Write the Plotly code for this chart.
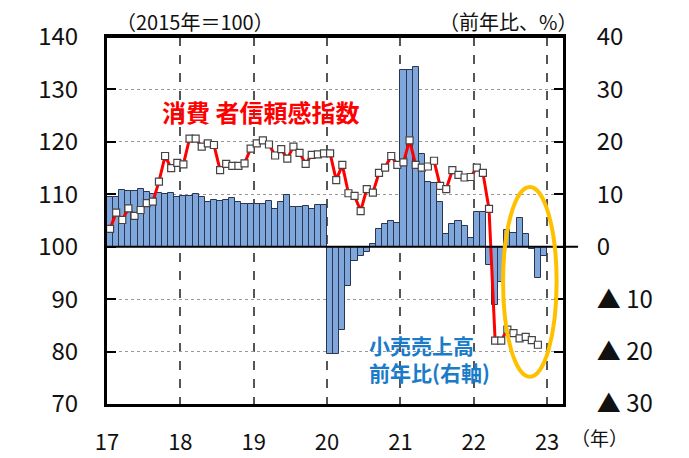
import plotly.graph_objects as go

# ---- data (monthly, Jan 2017 - Dec 2022) ----
start_year = 2017
year_ticks = [2017, 2018, 2019, 2020, 2021, 2022, 2023]
year_labels = ["17", "18", "19", "20", "21", "22", "23"]

left_ticks = [70, 80, 90, 100, 110, 120, 130, 140]
left_labels = ["70", "80", "90", "100", "110", "120", "130", "140"]
right_ticks = [-30, -20, -10, 0, 10, 20, 30, 40]
right_labels = ["▲ 30", "▲ 20", "▲ 10", "0", "10", "20", "30", "40"]

# Retail sales, y/y % (right axis)
retail_yoy = [
    9.5, 9.5, 10.9, 10.7, 10.7, 11.0, 10.4, 10.1, 10.3, 10.0, 10.2, 9.4,      # 2017
    9.7, 9.7, 10.1, 9.4, 8.5, 9.0, 8.8, 9.0, 9.2, 8.6, 8.1, 8.2,              # 2018
    8.2, 8.2, 8.7, 7.2, 8.6, 9.8, 7.6, 7.5, 7.8, 7.2, 8.0, 8.0,               # 2019
    -20.5, -20.5, -15.8, -7.5, -2.8, -1.8, -1.1, 0.5, 3.3, 4.3, 5.0, 4.6,     # 2020
    33.8, 33.8, 34.2, 17.7, 12.4, 12.1, 8.5, 2.5, 4.4, 4.9, 3.9, 1.7,         # 2021
    6.7, 6.7, -3.5, -11.1, -6.7, 3.1, 2.7, 5.4, 2.5, -0.5, -5.9, -1.8,        # 2022
]

# Consumer confidence index, 2015=100 (left axis)
confidence = [
    103.4, 106.5, 105.1, 107.3, 105.9, 107.0, 108.3, 108.6, 112.4, 117.3, 115.0, 116.0,  # 2017
    115.7, 120.6, 120.6, 119.1, 119.7, 119.4, 114.6, 115.8, 115.4, 115.4, 115.9, 118.7,  # 2018
    119.7, 120.3, 119.5, 117.4, 118.6, 116.8, 119.1, 117.9, 115.8, 117.5, 117.6, 117.8,  # 2019
    117.8, 112.7, 115.6, 110.2, 109.7, 106.8, 111.0, 110.3, 114.1, 115.1, 117.3, 115.6,  # 2020
    116.1, 120.3, 115.6, 115.1, 115.3, 116.4, 111.6, 111.0, 114.6, 113.7, 113.2, 113.3,  # 2021
    115.1, 114.1, 107.2, 82.1, 82.1, 84.2, 83.5, 82.5, 82.8, 82.2, 81.3,                 # 2022 (to Nov)
]

x_bar = [start_year + (i + 0.5) / 12 for i in range(len(retail_yoy))]
x_line = [start_year + (i + 0.5) / 12 for i in range(len(confidence))]

FONT = "Noto Sans CJK JP"

fig = go.Figure()
fig.add_trace(go.Bar(
    x=x_bar, y=retail_yoy, width=1 / 12,
    marker=dict(color="#7FA7DC", line=dict(color="#2A3550", width=1)),
    yaxis="y", showlegend=False,
))
fig.add_trace(go.Scatter(
    x=x_line, y=confidence, mode="lines+markers",
    line=dict(color="#FF0000", width=3),
    marker=dict(symbol="square", size=7, color="white",
                line=dict(color="#444444", width=1.2)),
    yaxis="y2", showlegend=False,
))

# page body has an 8px margin, so the figure is offset by (8, 8)
fig.update_layout(
    width=681, height=450,
    margin=dict(l=99, r=126, t=29, b=54, autoexpand=False),
    paper_bgcolor="white", plot_bgcolor="white",
    font=dict(family=FONT, color="#111111", size=20),
    bargap=0,
    xaxis=dict(
        range=[2017, 2023.217], tickvals=year_ticks, ticktext=year_labels,
        showgrid=True, gridcolor="#555555", griddash="dash", gridwidth=1.5,
        showline=True, linecolor="black", linewidth=3, mirror=True,
        ticks="", ticklabelstandoff=17, tickfont=dict(size=22),
        zeroline=False, automargin=False,
    ),
    yaxis=dict(
        side="right", range=[-30, 40], tickvals=right_ticks, ticktext=right_labels,
        showgrid=True, gridcolor="#999999", griddash="dot", gridwidth=1,
        showline=True, linecolor="black", linewidth=3,
        ticks="inside", ticklen=9, tickwidth=2, tickcolor="black",
        ticklabelstandoff=26, tickfont=dict(size=24),
        zeroline=False, automargin=False,
    ),
    yaxis2=dict(
        side="left", overlaying="y", range=[70, 140],
        tickvals=left_ticks, ticktext=left_labels,
        showgrid=False,
        showline=True, linecolor="black", linewidth=3,
        ticks="inside", ticklen=9, tickwidth=2, tickcolor="black",
        ticklabelstandoff=21, tickfont=dict(size=24),
        zeroline=False, automargin=False,
    ),
    shapes=[
        dict(type="line", xref="paper", yref="y", x0=0, x1=1.033, y0=0, y1=0,
             line=dict(color="black", width=2)),
        dict(type="line", xref="paper", yref="paper", x0=0, x1=1, y0=1, y1=1,
             line=dict(color="black", width=2)),
        dict(type="circle", xref="x", yref="y2", x0=2022.40, x1=2023.13,
             y0=75.2, y1=111.4, line=dict(color="#FFC000", width=4)),
    ],
    annotations=[
        dict(text="<b>消費 者信頼感指数</b>", xref="paper", yref="paper",
             x=0.336, y=0.796, xanchor="center", yanchor="middle", showarrow=False,
             font=dict(size=24, color="#FF0000", family=FONT)),
        dict(text="<b>小売売上高<br>前年比(右軸)</b>", xref="paper", yref="paper",
             x=0.570, y=0.124, xanchor="left", yanchor="middle", align="left",
             showarrow=False,
             font=dict(size=21, color="#1A7CC9", family=FONT)),
        dict(text="（2015年＝100）", xref="paper", yref="paper",
             x=0.193, y=1.041, xanchor="center", yanchor="middle", showarrow=False,
             font=dict(size=20, family=FONT)),
        dict(text="（前年比、%）", xref="paper", yref="paper",
             x=0.880, y=1.041, xanchor="center", yanchor="middle", showarrow=False,
             font=dict(size=20, family=FONT)),
        dict(text="（年）", xref="paper", yref="paper",
             x=1.081, y=-0.090, xanchor="center", yanchor="middle", showarrow=False,
             font=dict(size=19, family=FONT)),
    ],
)

fig.write_html("out.html")
